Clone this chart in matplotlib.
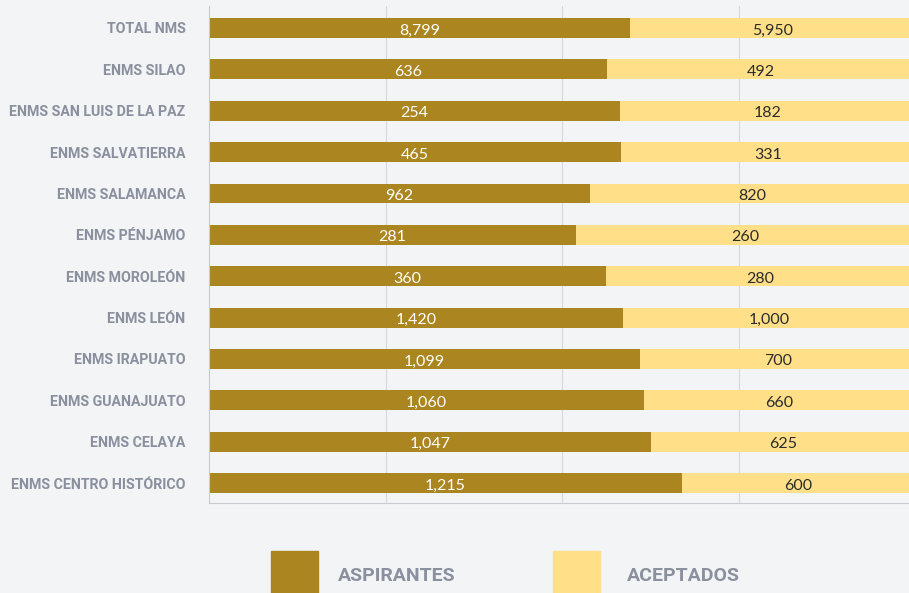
import matplotlib.pyplot as plt
from matplotlib.patches import Rectangle

# data
schools = ['TOTAL NMS', 'ENMS SILAO', 'ENMS SAN LUIS DE LA PAZ', 'ENMS SALVATIERRA',
           'ENMS SALAMANCA', 'ENMS PÉNJAMO', 'ENMS MOROLEÓN', 'ENMS LEÓN',
           'ENMS IRAPUATO', 'ENMS GUANAJUATO', 'ENMS CELAYA', 'ENMS CENTRO HISTÓRICO']
aspirantes = [8799, 636, 254, 465, 962, 281, 360, 1420, 1099, 1060, 1047, 1215]
aceptados = [5950, 492, 182, 331, 820, 260, 280, 1000, 700, 660, 625, 600]

dark = '#AB8520'
light = '#FFDF88'
bg = '#F3F4F6'
label_gray = '#8A909E'
label_font = ['Roboto', 'DejaVu Sans']

fig = plt.figure(figsize=(9.09, 5.93), dpi=100, facecolor=bg)
ax = fig.add_axes([209 / 909, 1 - 503 / 593, 1 - 209 / 909, (503 - 6) / 593])
ax.set_facecolor(bg)

# 100% stacked shares
tot = [a + b for a, b in zip(aspirantes, aceptados)]
share_a = [a / t for a, t in zip(aspirantes, tot)]
share_b = [b / t for b, t in zip(aceptados, tot)]
ypos = list(range(len(schools)))

ax.barh(ypos, share_a, height=0.48, color=dark, zorder=2)
ax.barh(ypos, share_b, left=share_a, height=0.48, color=light, zorder=2)

for y, sa, sb, a, b in zip(ypos, share_a, share_b, aspirantes, aceptados):
    ax.text(sa / 2, y + 0.06, f'{a:,}', ha='center', va='center', color='white',
            fontsize=11.5, family='Lato', zorder=3)
    ax.text(sa + sb / 2, y + 0.06, f'{b:,}', ha='center', va='center', color='#2b2b2b',
            fontsize=11.5, family='Lato', zorder=3)

ax.set_xlim(0, 700 / 706)
ax.set_ylim(11.48, -0.53)
ax.set_xticks([0.25, 0.5, 0.75])
ax.set_xticklabels([])
ax.tick_params(axis='x', length=0)
ax.grid(axis='x', color='#D5D7DB', linewidth=0.8, zorder=0)
ax.set_yticks(ypos)
ax.set_yticklabels(schools, fontsize=10.2, fontweight='bold', color=label_gray, family=label_font)
ax.tick_params(axis='y', length=0, pad=17)
for s in ['top', 'right']:
    ax.spines[s].set_visible(False)
ax.spines['left'].set_color('#C8CACF')
ax.spines['bottom'].set_color('#C8CACF')

# legend drawn in figure pixels, squares run off the bottom edge like the original
px = fig.transFigure
W, H = 909, 593
for x0, col, txt, tx in [(271, dark, 'ASPIRANTES', 338), (553, light, 'ACEPTADOS', 627)]:
    fig.add_artist(Rectangle((x0 / W, (H - 600) / H), 47 / W, 49 / H,
                             transform=px, color=col, clip_on=False))
    fig.text(tx / W, 1 - 576 / H, txt, fontsize=14, fontweight='bold',
             color=label_gray, family=label_font, va='center', ha='left')

plt.savefig('out.png', dpi=100, facecolor=bg)
